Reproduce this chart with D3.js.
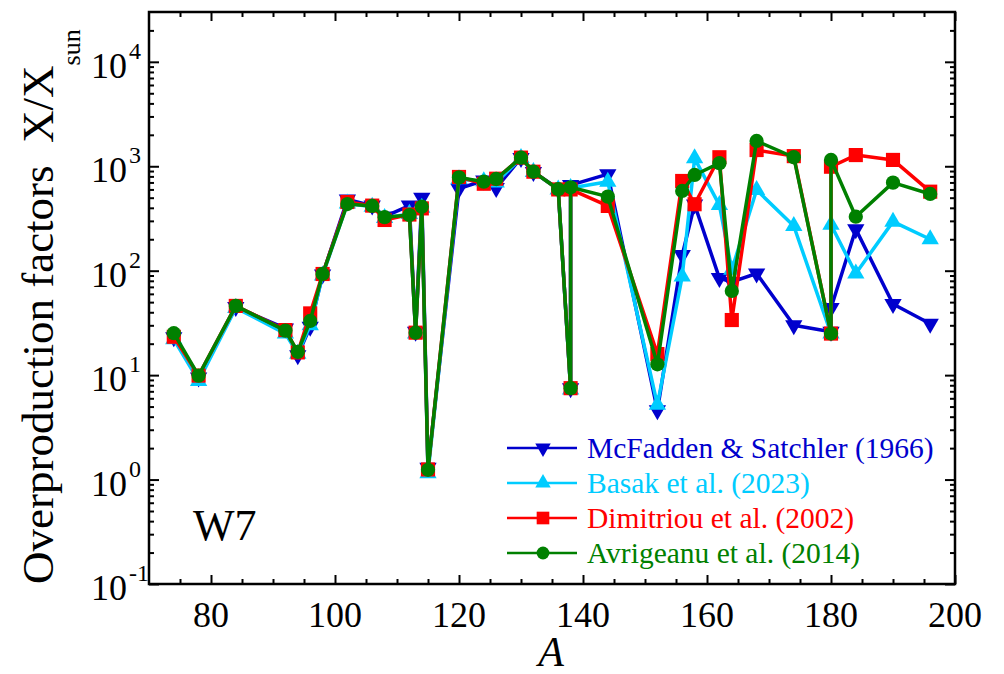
<!DOCTYPE html>
<html><head><meta charset="utf-8">
<script src="https://cdn.jsdelivr.net/npm/d3@7/dist/d3.min.js"></script>
<style>
html,body{margin:0;padding:0;background:#fff;}
svg{display:block;}
svg text{font-family:"Liberation Serif",serif;}
</style></head>
<body>
<svg id="chart" width="1004" height="674"></svg>
<script>
// ---- data ----
const massNumbers = [74,78,84,92,94,96,98,102,106,108,112,113,114,115,120,124,126,130,132,136,138,138,144,152,156,158,162,164,168,174,180,180,184,190,196];
const mcfadden = [23,9.5,45,28,15.5,29,92,480,420,330,420,26,500,1.3,610,730,620,1200,880,610,7.5,660,840,4.6,141,430,85,78,94,30,26,44,250,48,31];
const basak    = [22,8.8,44,25,16,30,90,440,410,320,350,25,400,1.15,750,720,700,1200,880,600,7.3,620,710,5.2,88,1190,425,102,593,268,25,275,94,295,200];
const dimitriou= [23.3,9.9,46,27,16.5,39,93,455,420,306,345,25.5,395,1.25,790,680,760,1210,887,600,7.5,600,417,15.9,723,433,1220,33.7,1430,1250,25,990,1280,1150,571];
const avrigeanu= [25.2,9.9,46,26.7,16.7,33,93,435,417,325,341,25.5,410,1.24,783,711,755,1208,887,603,7.5,629,512,12.7,580,825,1070,64,1747,1220,25,1150,329,697,543];
const seriesNames = ["McFadden & Satchler (1966)","Basak et al. (2023)","Dimitriou et al. (2002)","Avrigeanu et al. (2014)"];
const seriesColors = ["#0000CD","#00CCFF","#FF0000","#008000"];
const seriesMarkers = ["down","up","square","circle"];
const xMajorTicks = [80,100,120,140,160,180,200];
const yMajorTicks = [0.1,1,10,100,1000,10000];
const yExponents = ["-1","0","1","2","3","4"];

// ---- layout ----
const FONT = "Liberation Serif";
const L=149, R=955, T=12, B=584;
const svg = d3.select("#chart");
const x = d3.scaleLinear().domain([70,200]).range([L,R]);
const y = d3.scaleLog().domain([0.1,3e4]).range([B,T]);

const xMinor = d3.range(75,200,5).filter(v=>v%20!==0);
const yMinor = [];
for (let e=-1;e<=4;e++) for (let m=2;m<=9;m++){ const v=m*Math.pow(10,e); if (v<3e4) yMinor.push(v); }

function tickGroup(axisGen, transform){
  const g = svg.append("g").attr("transform",transform).call(axisGen);
  g.select(".domain").remove();
  g.selectAll("line").attr("stroke","#000").attr("stroke-width",2);
  g.selectAll("text").remove();
  return g;
}
tickGroup(d3.axisBottom(x).tickValues(xMajorTicks).tickSize(-9), `translate(0,${B})`);
tickGroup(d3.axisBottom(x).tickValues(xMinor).tickSize(-5), `translate(0,${B})`);
tickGroup(d3.axisTop(x).tickValues(xMajorTicks).tickSize(-9), `translate(0,${T})`);
tickGroup(d3.axisTop(x).tickValues(xMinor).tickSize(-5), `translate(0,${T})`);
tickGroup(d3.axisLeft(y).tickValues(yMajorTicks).tickSize(-10), `translate(${L},0)`);
tickGroup(d3.axisLeft(y).tickValues(yMinor).tickSize(-5), `translate(${L},0)`);
tickGroup(d3.axisRight(y).tickValues(yMajorTicks).tickSize(-10), `translate(${R},0)`);
tickGroup(d3.axisRight(y).tickValues(yMinor).tickSize(-5), `translate(${R},0)`);

svg.append("rect").attr("x",L).attr("y",T).attr("width",R-L).attr("height",B-T)
  .attr("fill","none").attr("stroke","#000").attr("stroke-width",2.5);

// x tick labels
svg.append("g").selectAll("text").data(xMajorTicks).join("text")
  .attr("font-family",FONT)
  .attr("x",d=>x(d)).attr("y",627).attr("text-anchor","middle")
  .attr("font-size",36).text(d=>d);
// y tick labels
const yl = svg.append("g").selectAll("text").data(yMajorTicks).join("text")
  .attr("font-family",FONT)
  .attr("x",127).attr("y",d=>y(d)+16).attr("text-anchor","end").attr("font-size",36);
yl.append("tspan").text("10");
yl.append("tspan").attr("x",129).attr("dy",-19).attr("font-size",24).attr("text-anchor","start")
  .text((d,i)=>yExponents[i]);

// axis titles
svg.append("text").attr("font-family",FONT).attr("x",551).attr("y",666).attr("text-anchor","middle")
  .attr("font-size",42).attr("font-style","italic").text("A");
const yt = svg.append("text").attr("font-family",FONT).attr("transform","translate(53,584) rotate(-90)")
  .attr("font-size",45);
yt.append("tspan").text("Overproduction factors\u00A0\u00A0X/X");
yt.append("tspan").attr("dy",27).attr("font-size",26).text("sun");

svg.append("text").attr("font-family",FONT).attr("x",193).attr("y",540).attr("font-size",44).text("W7");

// ---- series ----
const allSeries = [mcfadden,basak,dimitriou,avrigeanu];
const line = d3.line().x(d=>x(d[0])).y(d=>y(d[1]));
function markerPath(type, scale){
  if (type==="circle") return d3.symbol(d3.symbolCircle, 160*scale)();
  if (type==="square") return d3.symbol(d3.symbolSquare, 200*scale)();
  return d3.symbol(d3.symbolTriangle, 130*scale)();
}
allSeries.forEach((vals,i)=>{
  const pts = massNumbers.map((a,k)=>[a,vals[k]]);
  const g = svg.append("g");
  g.append("path").attr("d",line(pts)).attr("fill","none")
    .attr("stroke",seriesColors[i]).attr("stroke-width",3.5).attr("stroke-linejoin","round");
  g.selectAll("path.m").data(pts).join("path").attr("class","m")
    .attr("d",markerPath(seriesMarkers[i],1))
    .attr("transform",d=>`translate(${x(d[0])},${y(d[1])})${seriesMarkers[i]==="down"?" rotate(180)":""}`)
    .attr("fill",seriesColors[i]);
});

// ---- legend ----
const leg = svg.append("g");
seriesNames.forEach((name,i)=>{
  const yy = 448 + i*35;
  leg.append("line").attr("x1",507).attr("x2",577).attr("y1",yy).attr("y2",yy)
    .attr("stroke",seriesColors[i]).attr("stroke-width",2.5);
  leg.append("path").attr("d",markerPath(seriesMarkers[i],0.8))
    .attr("transform",`translate(543,${yy})${seriesMarkers[i]==="down"?" rotate(180)":""}`)
    .attr("fill",seriesColors[i]);
  leg.append("text").attr("font-family",FONT).attr("x",587).attr("y",yy+10).attr("font-size",29.5)
    .attr("fill",seriesColors[i]).text(name);
});
</script>
</body></html>
